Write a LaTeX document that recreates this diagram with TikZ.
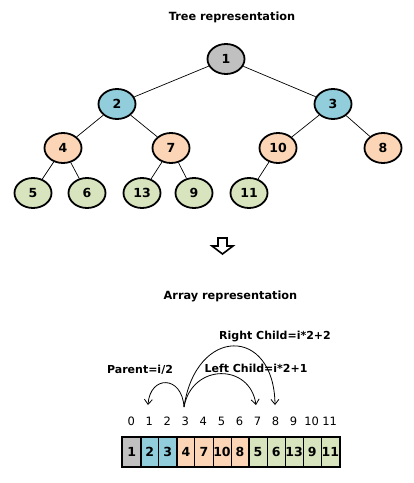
\documentclass[tikz,border=0pt]{standalone}
\usepackage{fontspec}
\setmainfont{DejaVu Sans}
\usetikzlibrary{shapes.geometric,arrows.meta}
\definecolor{cgray}{HTML}{C0C0C0}
\definecolor{cblue}{HTML}{92CDDC}
\definecolor{corange}{HTML}{FBD5B5}
\definecolor{cgreen}{HTML}{D7E4BD}
\tikzset{
  tnode/.style={ellipse, draw=black, line width=1.8pt, minimum width=37pt, minimum height=30pt, inner sep=0pt, font=\fontsize{12.5}{12.5}\selectfont\bfseries},
  tedge/.style={line width=0.7pt},
  title/.style={font=\fontsize{11.3}{11.3}\selectfont\bfseries},
  lbl/.style={font=\fontsize{11}{11}\selectfont\bfseries, inner sep=0pt},
  idx/.style={font=\fontsize{11.5}{11.5}\selectfont, inner sep=0pt},
  cell/.style={minimum width=18.05pt, minimum height=30pt, inner sep=0pt, draw=black, line width=0.8pt, font=\fontsize{12.5}{12.5}\selectfont\bfseries},
  arc/.style={line width=0.8pt, -{Straight Barb[length=5pt,width=8pt]}},
}
\begin{document}
\begin{tikzpicture}[x=1pt,y=-1pt]
\useasboundingbox (0,0) rectangle (414,483);
\fill[white] (0,0) rectangle (414,483);
\node[title] (tt) at (232,17) {Tree representation};
% tree
\node[tnode, fill=cgray] (n1) at (226,59) {1};
\node[tnode, fill=cblue] (n2) at (117,104) {2};
\node[tnode, fill=cblue] (n3) at (333,104) {3};
\node[tnode, fill=corange] (n4) at (63,148) {4};
\node[tnode, fill=corange] (n7) at (171,148) {7};
\node[tnode, fill=corange] (n10) at (278,148) {10};
\node[tnode, fill=corange] (n8) at (383,148) {8};
\node[tnode, fill=cgreen] (n5) at (33,193) {5};
\node[tnode, fill=cgreen] (n6) at (87,193) {6};
\node[tnode, fill=cgreen] (n13) at (142,193) {13};
\node[tnode, fill=cgreen] (n9) at (194,193) {9};
\node[tnode, fill=cgreen] (n11) at (249,193) {11};
\draw[tedge] (n1) -- (n2);
\draw[tedge] (n1) -- (n3);
\draw[tedge] (n2) -- (n4);
\draw[tedge] (n2) -- (n7);
\draw[tedge] (n3) -- (n10);
\draw[tedge] (n3) -- (n8);
\draw[tedge] (n4) -- (n5);
\draw[tedge] (n4) -- (n6);
\draw[tedge] (n7) -- (n13);
\draw[tedge] (n7) -- (n9);
\draw[tedge] (n10) -- (n11);
% hollow arrow
\draw[line width=1.6pt, line join=miter] (218,238) -- (227,238) -- (227,246) -- (233,246) -- (222.5,254) -- (212,246) -- (218,246) -- cycle;
\node[title] (at) at (230.5,296) {Array representation};
% labels
\node[lbl] (lr) at (275,337) {Right Child=i*2+2};
\node[lbl] (ll) at (256,368) {Left Child=i*2+1};
\node[lbl] (lp) at (140,370) {Parent=i/2};
% array
\foreach \v/\c [count=\k from 0] in {1/cgray,2/cblue,3/cblue,4/corange,7/corange,10/corange,8/corange,5/cgreen,6/cgreen,13/cgreen,9/cgreen,11/cgreen}{
  \node[cell, fill=\c] (c\k) at ({131.7+18.05*\k},452) {\v};
  \node[idx] (i\k) at ({131.2+18.05*\k},421) {\k};
}
\draw[line width=2pt] (c0.north west) rectangle (c11.south east);
\draw[line width=2pt] (c0.north east) -- (c0.south east);
\draw[line width=2pt] (c2.north east) -- (c2.south east);
\draw[line width=2pt] (c6.north east) -- (c6.south east);
% arcs
\coordinate (s) at (184,407);
\coordinate (p) at (148,405);
\coordinate (l) at (256,405);
\coordinate (r) at (275,405);
\draw[arc] (s) .. controls (182,375) and (150,375) .. (p);
\draw[arc] (s) .. controls (192,363) and (250,363) .. (l);
\draw[arc] (s) .. controls (196,326) and (274,326) .. (r);
\end{tikzpicture}
\end{document}
